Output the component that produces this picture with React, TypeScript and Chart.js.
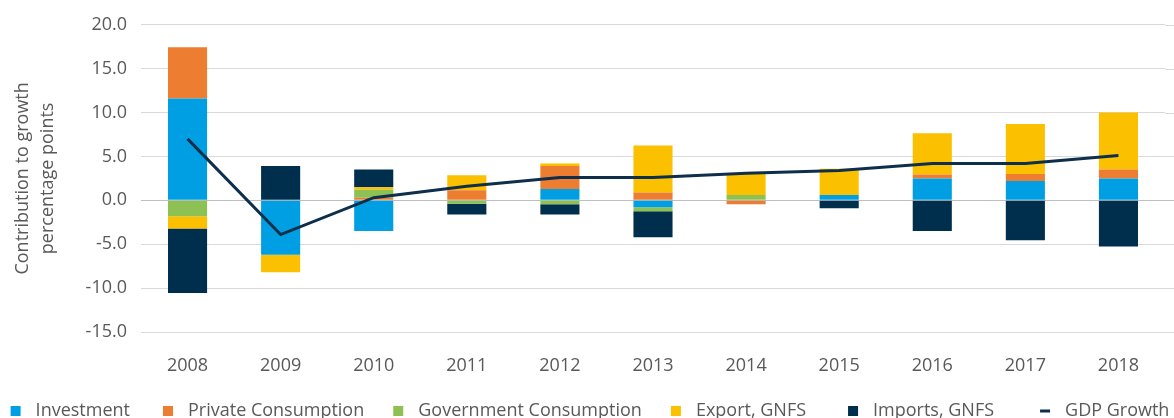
import React, { useEffect, useRef } from "react";
import { Chart, registerables } from "chart.js";

Chart.register(...registerables);

const years = ["2008", "2009", "2010", "2011", "2012", "2013", "2014", "2015", "2016", "2017", "2018"];
const investment = [11.6, -6.2, -3.5, 0, 1.3, -0.8, 0, 0.6, 2.5, 2.2, 2.5];
const privateConsumption = [5.85, 0, 0.3, 1.15, 2.6, 0.9, -0.45, 0, 0.45, 0.8, 1.0];
const governmentConsumption = [-1.8, 0, 0.9, -0.4, -0.45, -0.45, 0.6, 0, 0, 0, 0];
const exportGNFS = [-1.4, -2.0, 0.3, 1.7, 0.3, 5.35, 2.4, 3.0, 4.7, 5.7, 6.5];
const importsGNFS = [-7.35, 3.9, 2.0, -1.2, -1.15, -2.95, 0, -0.9, -3.5, -4.55, -5.25];
const gdpGrowth = [7.0, -3.9, 0.3, 1.6, 2.6, 2.6, 3.1, 3.4, 4.2, 4.2, 5.1];

const seriesNames = ["Investment", "Private Consumption", "Government Consumption", "Export, GNFS", "Imports, GNFS", "GDP Growth"];
const seriesColors = ["#009FE3", "#ED7D31", "#8DC153", "#FBC000", "#002F4E", "#0D2F4C"];
const yTitle = ["Contribution to growth", "percentage points"];

const FONT = "'Open Sans', sans-serif";
const TEXT = "#595959";

const extendGrid = {
  id: "extendGrid",
  beforeDatasetsDraw(chart: any) {
    const { ctx, chartArea, scales } = chart;
    const y = scales.y;
    ctx.save();
    y.ticks.forEach((t: any) => {
      const py = Math.round(y.getPixelForValue(t.value)) + 0.5;
      ctx.strokeStyle = t.value === 0 ? "#bfbfbf" : "#d9d9d9";
      ctx.lineWidth = 1;
      ctx.beginPath();
      ctx.moveTo(chartArea.right, py);
      ctx.lineTo(chart.width, py);
      ctx.stroke();
    });
    ctx.restore();
  },
};

// legend drawn in one row below the axis (Excel-like spacing)
const bottomLegend = {
  id: "bottomLegend",
  afterDraw(chart: any) {
    const { ctx } = chart;
    const gaps = [33, 29, 29, 42, 46];
    const boxToText = 25;
    const cy = 411;
    ctx.save();
    ctx.font = `18px ${FONT}`;
    ctx.textBaseline = "middle";
    ctx.textAlign = "left";
    const widths = seriesNames.map((n) => ctx.measureText(n).width);
    let total = 0;
    widths.forEach((w, i) => {
      total += boxToText + w + (i < gaps.length ? gaps[i] : 0);
    });
    let x = (chart.width - total) / 2 + 3;
    seriesNames.forEach((name, i) => {
      ctx.fillStyle = seriesColors[i];
      if (i === 5) {
        ctx.fillRect(x, cy - 1.5, 10, 3);
      } else {
        ctx.fillRect(x, cy - 5, 10, 10);
      }
      ctx.fillStyle = TEXT;
      ctx.fillText(name, x + boxToText, cy);
      x += boxToText + widths[i] + (i < gaps.length ? gaps[i] : 0);
    });
    ctx.restore();
  },
};

export default function App() {
  const ref = useRef<HTMLCanvasElement | null>(null);

  useEffect(() => {
    if (!ref.current) return;
    const barSeries = [investment, privateConsumption, governmentConsumption, exportGNFS, importsGNFS];
    const datasets: any[] = barSeries.map((data, i) => ({
      type: "bar",
      label: seriesNames[i],
      data,
      backgroundColor: seriesColors[i],
      borderWidth: 0,
      stack: "s",
      order: 1,
      categoryPercentage: 0.6,
      barPercentage: 0.7,
    }));
    datasets.push({
      type: "line",
      label: seriesNames[5],
      data: gdpGrowth,
      borderColor: seriesColors[5],
      backgroundColor: seriesColors[5],
      borderWidth: 3,
      pointRadius: 0,
      tension: 0,
      stack: "gdp",
      order: 0,
    });

    const chart = new Chart(ref.current, {
      type: "bar",
      data: { labels: years, datasets },
      plugins: [extendGrid, bottomLegend],
      options: {
        responsive: false,
        maintainAspectRatio: false,
        animation: false,
        layout: { padding: { top: 20, right: 9, left: 0, bottom: 18.4 } },
        scales: {
          x: {
            stacked: true,
            grid: { display: false, drawTicks: false },
            border: { display: false },
            ticks: { color: TEXT, font: { family: FONT, size: 18 }, padding: 23 },
          },
          y: {
            stacked: true,
            min: -15,
            max: 20,
            afterFit: (scale: any) => {
              scale.width = 141;
            },
            ticks: {
              stepSize: 5,
              color: TEXT,
              font: { family: FONT, size: 18 },
              padding: 14,
              callback: (v: any) => Number(v).toFixed(1),
            },
            grid: {
              drawTicks: false,
              color: (c: any) => (c.tick && c.tick.value === 0 ? "#bfbfbf" : "#d9d9d9"),
              lineWidth: 1,
            },
            border: { display: false },
            title: {
              display: true,
              text: yTitle,
              color: TEXT,
              font: { family: FONT, size: 18, lineHeight: 1.35 },
              padding: { top: 11, bottom: 10 },
            },
          },
        },
        plugins: {
          tooltip: { enabled: false },
          legend: { display: false },
        },
      } as any,
    });
    return () => chart.destroy();
  }, []);

  return (
    <div style={{ position: "fixed", left: 0, top: 0, width: 1174, height: 418, overflow: "hidden", background: "#fff" }}>
      <canvas ref={ref} width={1174} height={418} style={{ width: 1174, height: 418, display: "block" }} />
    </div>
  );
}
